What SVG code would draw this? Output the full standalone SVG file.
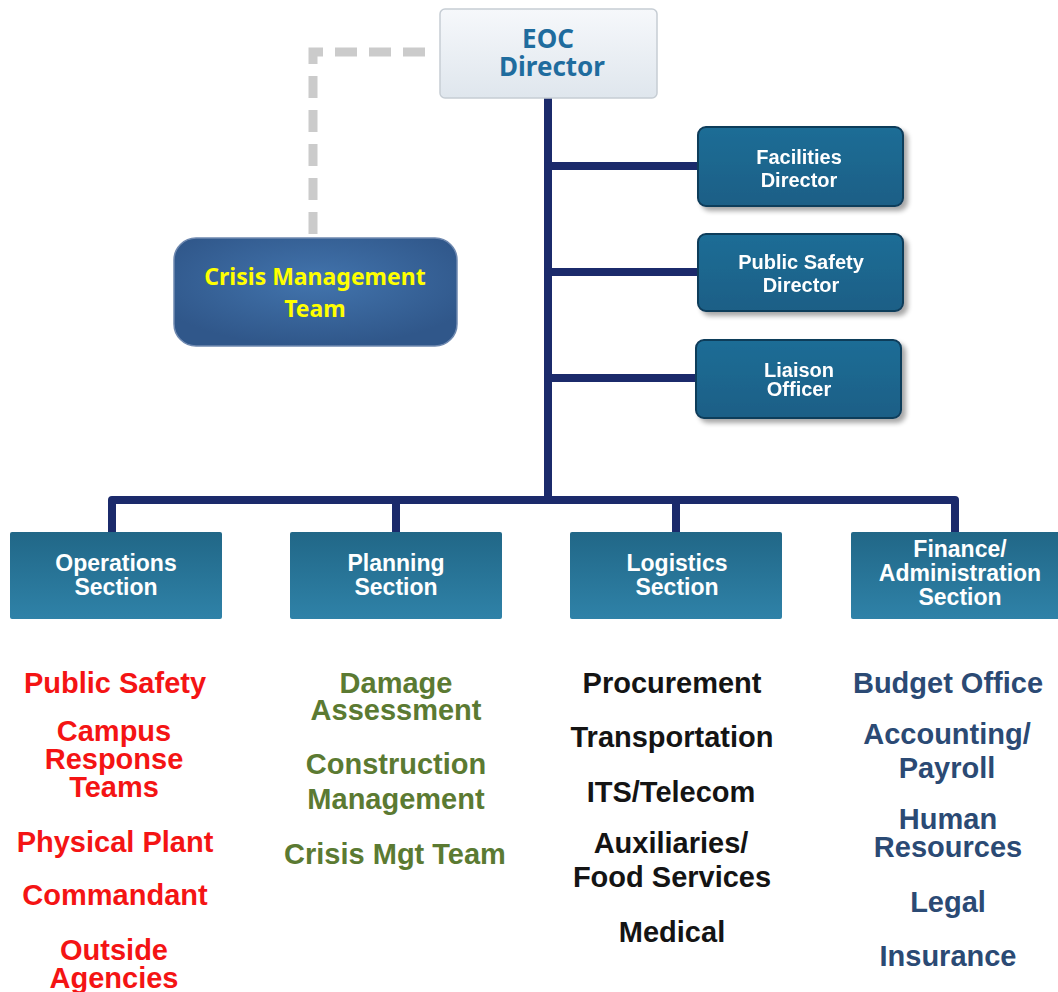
<svg xmlns="http://www.w3.org/2000/svg" width="1058" height="992" viewBox="0 0 1058 992">
<defs>
<linearGradient id="gEoc" x1="0" y1="0" x2="0" y2="1"><stop offset="0" stop-color="#f6f8fb"/><stop offset="1" stop-color="#dfe6ed"/></linearGradient>
<radialGradient id="gCmt" cx="0.5" cy="0.4" r="0.6"><stop offset="0" stop-color="#4274ad"/><stop offset="1" stop-color="#30578a"/></radialGradient>
<linearGradient id="gDir" x1="0" y1="0" x2="0" y2="1"><stop offset="0" stop-color="#1f6d96"/><stop offset="1" stop-color="#1b5f86"/></linearGradient>
<linearGradient id="gSec" x1="0" y1="0" x2="0" y2="1"><stop offset="0" stop-color="#216787"/><stop offset="1" stop-color="#2f82a8"/></linearGradient>
<filter id="sh" x="-10%" y="-10%" width="130%" height="140%"><feGaussianBlur in="SourceAlpha" stdDeviation="2.5"/><feOffset dx="4" dy="4"/><feComponentTransfer><feFuncA type="linear" slope="0.35"/></feComponentTransfer><feMerge><feMergeNode/><feMergeNode in="SourceGraphic"/></feMerge></filter>
</defs>
<style>
.conn{fill:none;stroke:#1b2a6b;stroke-width:8;stroke-linejoin:round;stroke-linecap:round}
.dash{fill:none;stroke:#cbcbcb;stroke-width:9;stroke-dasharray:22 12}
.dir{fill:url(#gDir);stroke:#113c5a;stroke-width:2}
.sec{fill:url(#gSec)}
.wt{font-family:"Liberation Sans",Arial,sans-serif;font-weight:bold;fill:#ffffff;text-anchor:middle}
.lst{font-family:"Liberation Sans",Arial,sans-serif;font-weight:bold;font-size:29px;text-anchor:middle}
.cal{font-family:"Noto Sans","Liberation Sans",sans-serif;font-weight:bold;text-anchor:middle}
.red{fill:#f41414}.grn{fill:#5b7a32}.blk{fill:#141414}.nav{fill:#2b4a74}
</style>
<rect width="1058" height="992" fill="#ffffff"/>
<g id="connectors">
<path class="dash" d="M425,52 H313 V238"/>
<path class="conn" d="M548,98 V498"/>
<path class="conn" d="M548,166 H700"/>
<path class="conn" d="M548,272 H700"/>
<path class="conn" d="M548,378 H698"/>
<path class="conn" d="M112,532 V500 H955 V532"/>
<path class="conn" d="M396,500 V532"/>
<path class="conn" d="M676,500 V532"/>
</g>
<g id="eoc-director">
<rect x="440" y="9" width="217" height="89" rx="5" fill="url(#gEoc)" stroke="#c6cdd4" stroke-width="1.5"/>
<text class="cal" font-size="26" fill="#1f6c9e"><tspan x="548" y="48">EOC</tspan><tspan x="552" y="76">Director</tspan></text>
</g>
<g id="crisis-management-team">
<rect x="174" y="238" width="283" height="108" rx="22" fill="url(#gCmt)" stroke="#6f89b0" stroke-width="1.5"/>
<text class="cal" font-size="23" fill="#ffff00"><tspan x="315" y="285">Crisis Management</tspan><tspan x="315" y="317">Team</tspan></text>
</g>
<g id="facilities-director" filter="url(#sh)">
<rect class="dir" x="698" y="127" width="205" height="79" rx="8"/>
<text class="wt" font-size="20"><tspan x="799" y="164">Facilities</tspan><tspan x="799" y="187">Director</tspan></text>
</g>
<g id="public-safety-director" filter="url(#sh)">
<rect class="dir" x="698" y="234" width="205" height="77" rx="8"/>
<text class="wt" font-size="20"><tspan x="801" y="269">Public Safety</tspan><tspan x="801" y="292">Director</tspan></text>
</g>
<g id="liaison-officer" filter="url(#sh)">
<rect class="dir" x="696" y="340" width="205" height="78" rx="8"/>
<text class="wt" font-size="20"><tspan x="799" y="377">Liaison</tspan><tspan x="799" y="396">Officer</tspan></text>
</g>
<g id="operations-section">
<rect class="sec" x="10" y="532" width="212" height="87" rx="2"/>
<text class="wt" font-size="23"><tspan x="116" y="571">Operations</tspan><tspan x="116" y="595">Section</tspan></text>
</g>
<g id="planning-section">
<rect class="sec" x="290" y="532" width="212" height="87" rx="2"/>
<text class="wt" font-size="23"><tspan x="396" y="571">Planning</tspan><tspan x="396" y="595">Section</tspan></text>
</g>
<g id="logistics-section">
<rect class="sec" x="570" y="532" width="212" height="87" rx="2"/>
<text class="wt" font-size="23"><tspan x="677" y="571">Logistics</tspan><tspan x="677" y="595">Section</tspan></text>
</g>
<g id="finance-section">
<rect class="sec" x="851" y="532" width="212" height="87" rx="2"/>
<text class="wt" font-size="23"><tspan x="960" y="557">Finance/</tspan><tspan x="960" y="581">Administration</tspan><tspan x="960" y="605">Section</tspan></text>
</g>
<g id="operations-list" class="lst red">
<text x="115" y="693">Public Safety</text>
<text><tspan x="114" y="741">Campus</tspan><tspan x="114" y="769">Response</tspan><tspan x="114" y="797">Teams</tspan></text>
<text x="115" y="852">Physical Plant</text>
<text x="115" y="905">Commandant</text>
<text><tspan x="114" y="960">Outside</tspan><tspan x="114" y="988">Agencies</tspan></text>
</g>
<g id="planning-list" class="lst grn">
<text><tspan x="396" y="693">Damage</tspan><tspan x="396" y="720">Assessment</tspan></text>
<text><tspan x="396" y="774">Construction</tspan><tspan x="396" y="809">Management</tspan></text>
<text x="395" y="864">Crisis Mgt Team</text>
</g>
<g id="logistics-list" class="lst blk">
<text x="672" y="693">Procurement</text>
<text x="672" y="747">Transportation</text>
<text x="671" y="802">ITS/Telecom</text>
<text><tspan x="671" y="853">Auxiliaries/</tspan><tspan x="672" y="887">Food Services</tspan></text>
<text x="672" y="942">Medical</text>
</g>
<g id="finance-list" class="lst nav">
<text x="948" y="693">Budget Office</text>
<text><tspan x="947" y="744">Accounting/</tspan><tspan x="947" y="778">Payroll</tspan></text>
<text><tspan x="948" y="829">Human</tspan><tspan x="948" y="857">Resources</tspan></text>
<text x="948" y="912">Legal</text>
<text x="948" y="966">Insurance</text>
</g>
</svg>
